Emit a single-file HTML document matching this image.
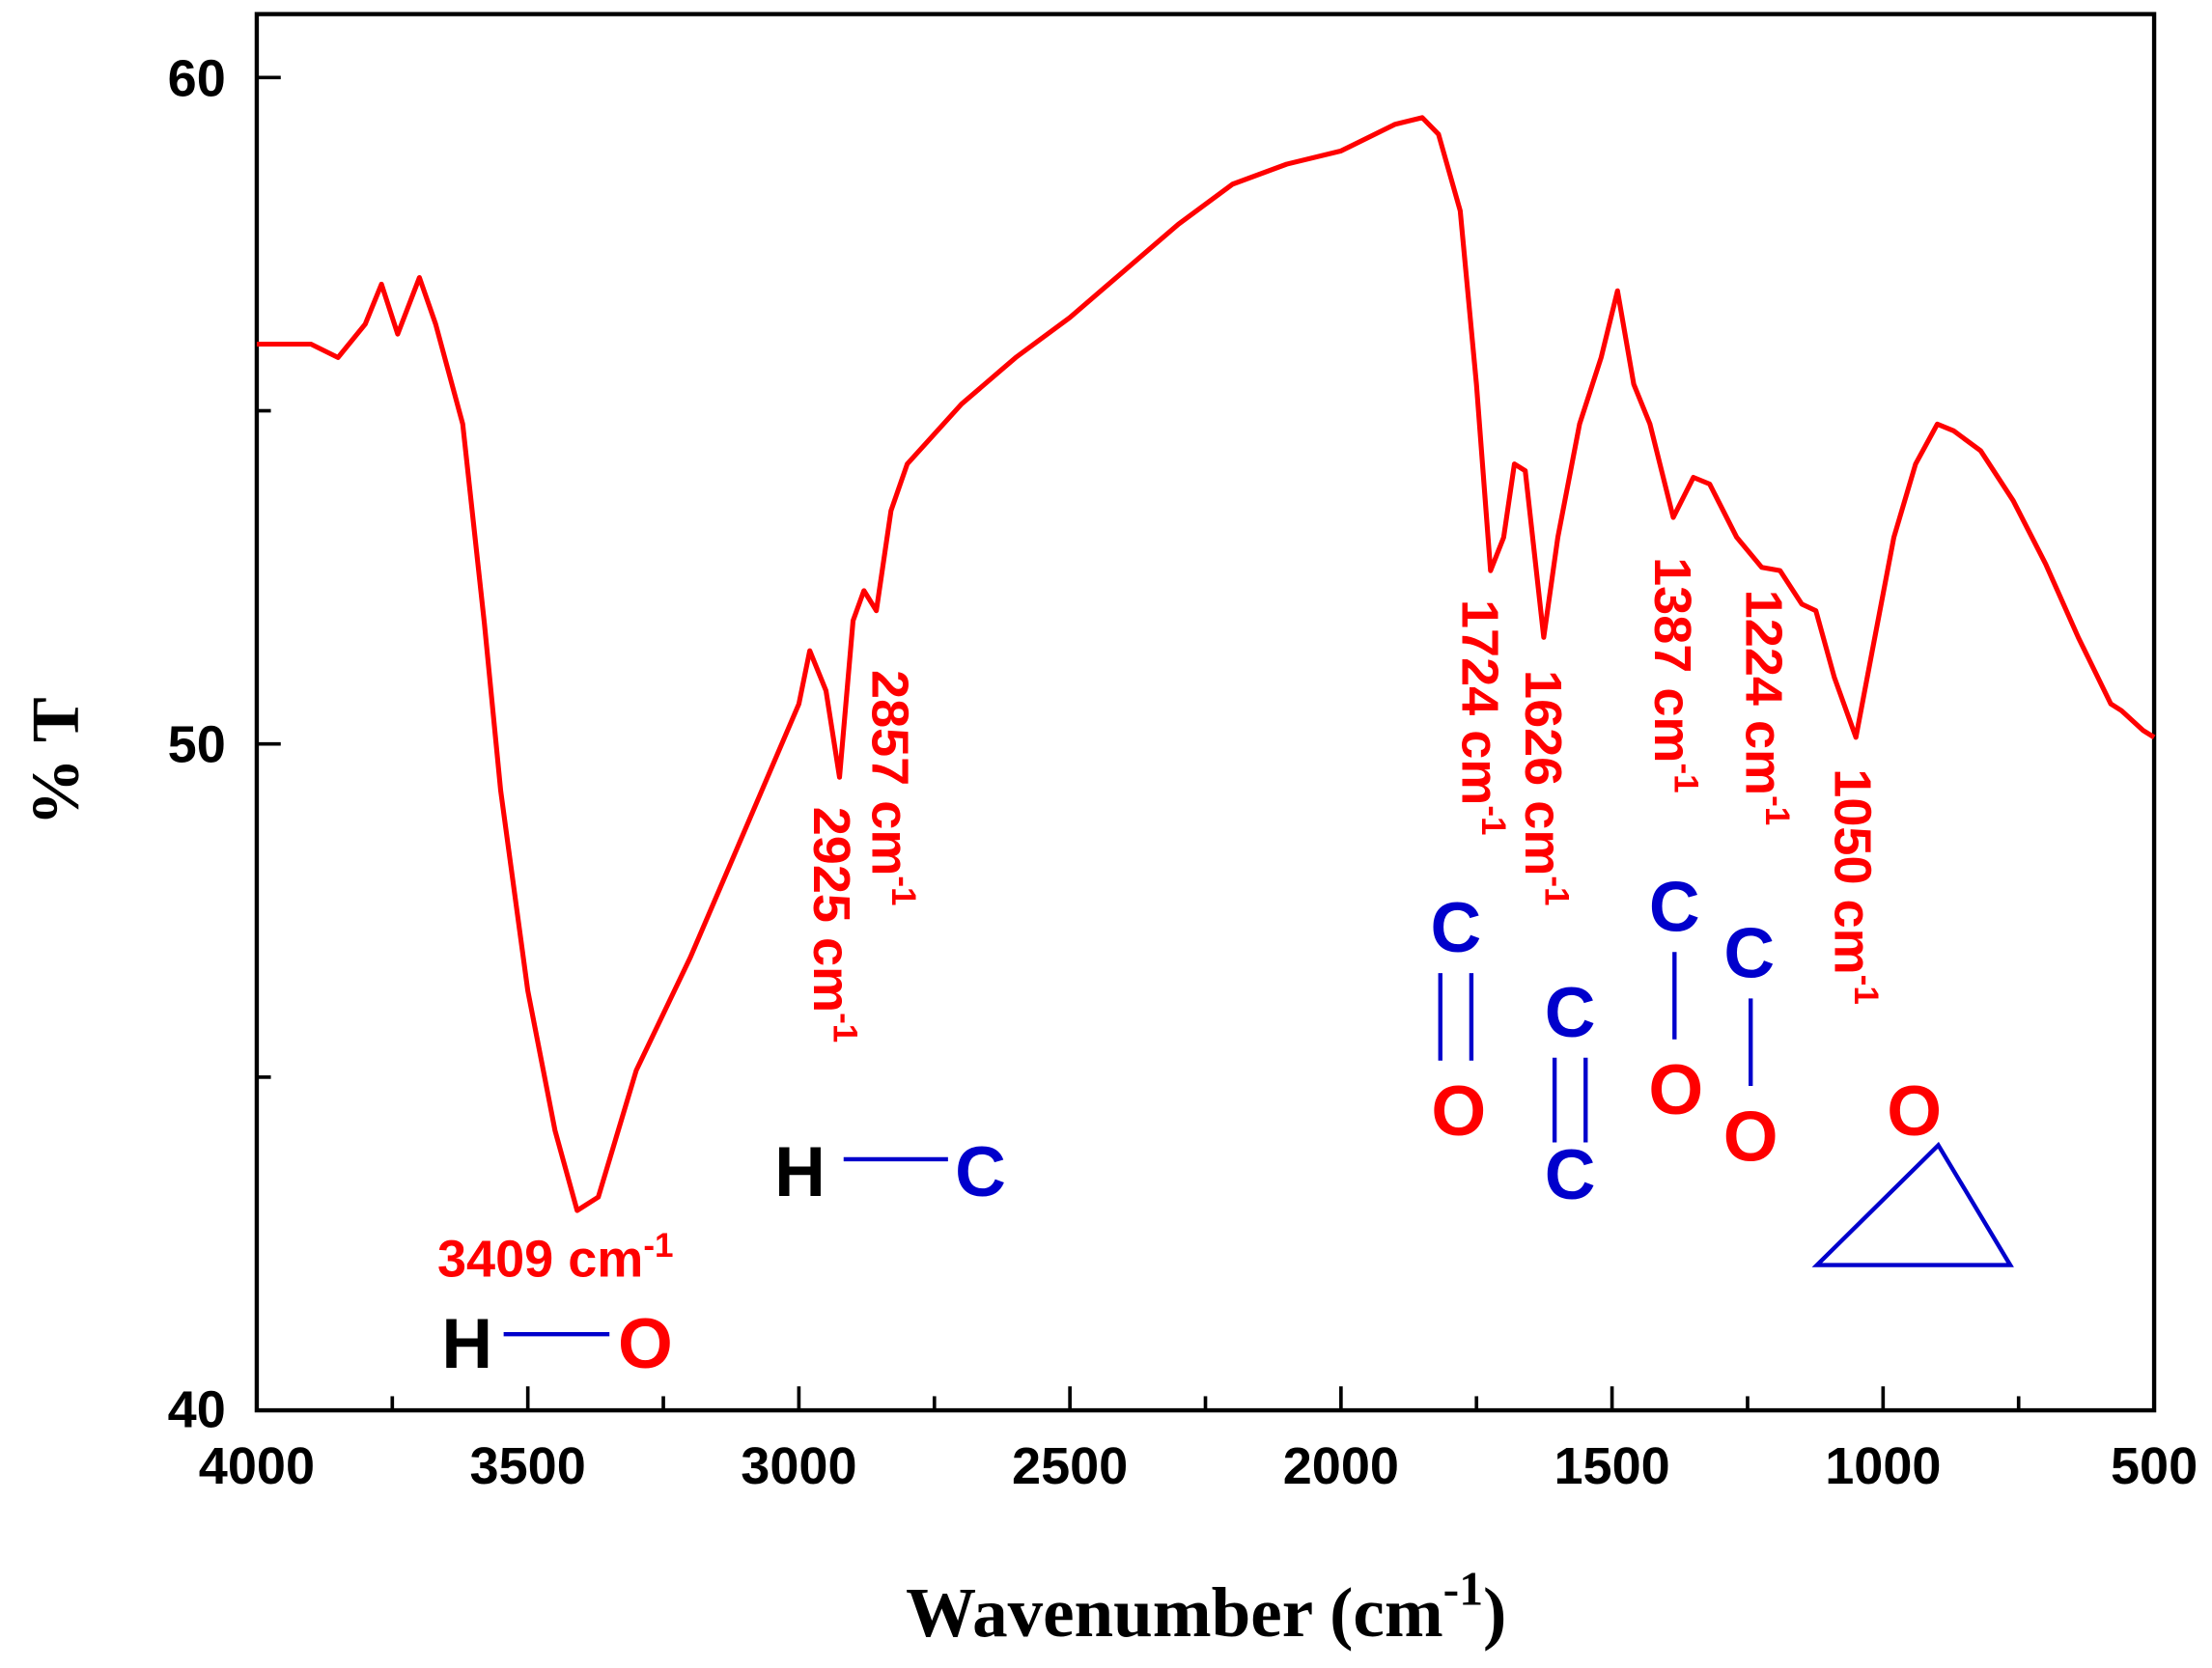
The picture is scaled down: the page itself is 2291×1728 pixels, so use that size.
<!DOCTYPE html>
<html><head><meta charset="utf-8"><style>
html,body{margin:0;padding:0;background:#fff}
svg{display:block}
.tk{font-family:"Liberation Sans",sans-serif;font-weight:bold;font-size:37px;fill:#000}
.pk{font-family:"Liberation Sans",sans-serif;font-weight:bold;font-size:37px;fill:#ff0000}
.at{font-family:"Liberation Sans",sans-serif;font-weight:bold;font-size:50px}
</style></head><body>
<svg id="chart" width="2291" height="1728" viewBox="0 0 1568 1182.7" xmlns="http://www.w3.org/2000/svg">
<g id="axes"></g>
<path id="spectrum" fill="none" stroke="#ff0000" stroke-width="3.5" stroke-linejoin="round"/>
<g id="labels"></g>
<text transform="translate(55,540) rotate(-90)" text-anchor="middle" font-family="Liberation Serif,serif" font-weight="bold" font-size="48">% T</text>
<text x="855" y="1160" text-anchor="middle" font-family="Liberation Serif,serif" font-weight="bold" font-size="50">Wavenumber (cm<tspan dy="-22" font-size="34">-1</tspan><tspan dy="22">)</tspan></text>
<g>
<text class="at" x="313" y="970" fill="#000">H</text>
<line x1="357" y1="946" x2="432" y2="946" stroke="#0000cc" stroke-width="3"/>
<text class="at" x="438" y="970" fill="#ff0000">O</text></g>
<g>
<text class="at" x="549" y="848" fill="#000">H</text>
<line x1="598" y1="822" x2="672" y2="822" stroke="#0000cc" stroke-width="3"/>
<text class="at" x="677" y="848" fill="#0000cc">C</text></g>
<g>
<text class="at" x="1032" y="675" text-anchor="middle" fill="#0000cc">C</text>
<line x1="1021" y1="690" x2="1021" y2="752" stroke="#0000cc" stroke-width="3"/>
<line x1="1043" y1="690" x2="1043" y2="752" stroke="#0000cc" stroke-width="3"/>
<text class="at" x="1034" y="805" text-anchor="middle" fill="#ff0000">O</text></g>
<g>
<text class="at" x="1113" y="735" text-anchor="middle" fill="#0000cc">C</text>
<line x1="1102" y1="750" x2="1102" y2="810" stroke="#0000cc" stroke-width="3"/>
<line x1="1124" y1="750" x2="1124" y2="810" stroke="#0000cc" stroke-width="3"/>
<text class="at" x="1113" y="850" text-anchor="middle" fill="#0000cc">C</text></g>
<g>
<text class="at" x="1187" y="660" text-anchor="middle" fill="#0000cc">C</text>
<line x1="1187" y1="675" x2="1187" y2="737" stroke="#0000cc" stroke-width="3"/>
<text class="at" x="1188" y="790" text-anchor="middle" fill="#ff0000">O</text></g>
<g>
<text class="at" x="1240" y="693" text-anchor="middle" fill="#0000cc">C</text>
<line x1="1241" y1="708" x2="1241" y2="770" stroke="#0000cc" stroke-width="3"/>
<text class="at" x="1241" y="823" text-anchor="middle" fill="#ff0000">O</text></g>
<g>
<text class="at" x="1357" y="805" text-anchor="middle" fill="#ff0000">O</text>
<polygon points="1374,812 1288,897 1425,897" fill="none" stroke="#0000cc" stroke-width="3"/></g>
</svg>
<script>
const wavenumbers=[4000,3900,3850,3800,3770,3740,3700,3670,3620,3580,3550,3500,3450,3409,3370,3300,3200,3100,3000,2980,2950,2925,2900,2880,2857,2830,2800,2700,2600,2500,2400,2300,2200,2100,2000,1900,1850,1820,1780,1750,1724,1700,1680,1660,1626,1600,1560,1520,1490,1460,1430,1387,1350,1320,1270,1224,1190,1150,1124,1090,1050,1020,980,940,900,870,820,760,700,640,580,560,520,500];
const transmittance=[56.0,56.0,55.8,56.3,56.9,56.15,57.0,56.3,54.8,51.8,49.3,46.3,44.2,43.0,43.2,45.1,46.8,48.7,50.6,51.4,50.8,49.5,51.85,52.3,52.0,53.5,54.2,55.1,55.8,56.4,57.1,57.8,58.4,58.7,58.9,59.3,59.4,59.15,58.0,55.4,52.6,53.1,54.2,54.1,51.6,53.1,54.8,55.8,56.8,55.4,54.8,53.4,54.0,53.9,53.1,52.65,52.6,52.1,52.0,51.0,50.1,51.4,53.1,54.2,54.8,54.7,54.4,53.65,52.7,51.6,50.6,50.5,50.2,50.1];
const xTicks=[4000,3500,3000,2500,2000,1500,1000,500];
const xMinor=[3750,3250,2750,2250,1750,1250,750];
const yTicks=[40,50,60];
const yMinor=[45,55];
const peakLabels=["2925","2857","1724","1626","1387","1224","1050"];
const peakWn=[2925,2857,1724,1626,1387,1224,1050];
const peakTop=[572,475,425,475,395,418,545];
const NS="http://www.w3.org/2000/svg";
const L=182,R=1527,T=10,B=1000;
const xs=w=>L+(4000-w)/3500*(R-L);
const ys=v=>55+(60-v)*(1000-55)/20;
function mk(tag,attrs,parent){const e=document.createElementNS(NS,tag);for(const k in attrs)e.setAttribute(k,attrs[k]);parent.appendChild(e);return e;}
const ax=document.getElementById('axes');
const frame=mk('rect',{x:L,y:T,width:R-L,height:B-T,fill:'none',stroke:'#000','stroke-width':3},ax);


xTicks.forEach(t=>{const x=xs(t);
 const l=mk('line',{x1:x,x2:x,y1:B,y2:B-17,stroke:'#000','stroke-width':2.5},ax);
 
 
 const tx=mk('text',{x:x,y:B+52,'text-anchor':'middle',class:'tk'},ax);tx.textContent=t;
 
 });
xMinor.forEach(t=>{const x=xs(t);const l=mk('line',{x1:x,x2:x,y1:B,y2:B-10,stroke:'#000','stroke-width':2.5},ax);
 
 });
yTicks.forEach(t=>{const y=ys(t);
 const l=mk('line',{x1:L,x2:L+17,y1:y,y2:y,stroke:'#000','stroke-width':2.5},ax);
 
 
 const tx=mk('text',{x:160,y:y+(t==40?12:13),'text-anchor':'end',class:'tk'},ax);tx.textContent=t;
 
 });
yMinor.forEach(t=>{const y=ys(t);const l=mk('line',{x1:L,x2:L+10,y1:y,y2:y,stroke:'#000','stroke-width':2.5},ax);
 
 });
document.getElementById('spectrum').setAttribute('d',wavenumbers.map((w,i)=>(i?'L':'M')+xs(w).toFixed(1)+','+ys(transmittance[i]).toFixed(1)).join(''));
const lb=document.getElementById('labels');
const t3=mk('text',{x:310,y:905,class:'pk'},lb);


t3.innerHTML='3409 cm<tspan dy="-14" font-size="24">-1</tspan>';
const offs=[-5,10,-7,0,0,2,-2];
peakLabels.forEach((p,i)=>{const x=xs(peakWn[i])+offs[i]-13;
 const t=mk('text',{transform:`translate(${x},${peakTop[i]}) rotate(90)`,class:'pk'},lb);
 
 
 t.innerHTML=p+' cm<tspan dy="-14" font-size="24">-1</tspan>';});
</script>
</body></html>
